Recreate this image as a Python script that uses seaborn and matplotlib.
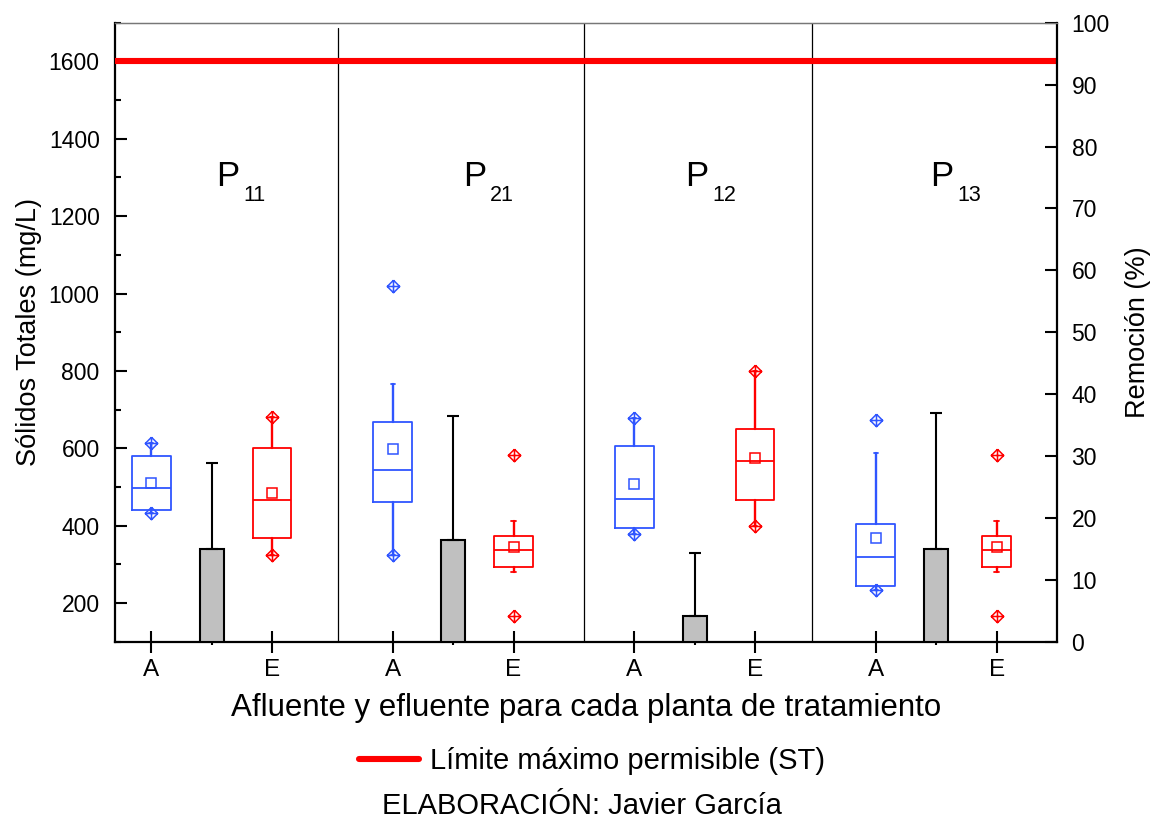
import numpy as np
import matplotlib
matplotlib.use("Agg")
import matplotlib.pyplot as plt
from matplotlib.path import Path
from matplotlib.lines import Line2D
from matplotlib.ticker import MultipleLocator, FixedLocator
import seaborn as sns

# ---- data -----------------------------------------------------------------
plantas = ["P11", "P21", "P12", "P13"]
etiquetas_x = ["A", "E", "A", "E", "A", "E", "A", "E"]

# Afluente (A), mg/L
afl_q1 = [440, 462, 394, 243]
afl_med = [497, 543, 470, 320]
afl_q3 = [580, 669, 605, 404]
afl_bigote_inf = [432, 324, 378, 233]
afl_bigote_sup = [614, 765, 677, 588]
afl_media = [510, 598, 507, 369]
afl_min = [432, 324, 378, 233]
afl_max = [614, 1020, 677, 674]

# Efluente (E), mg/L
efl_q1 = [368, 293, 466, 292]
efl_med = [466, 336, 568, 336]
efl_q3 = [600, 373, 650, 374]
efl_bigote_inf = [324, 281, 399, 281]
efl_bigote_sup = [681, 412, 799, 412]
efl_media = [485, 344, 575, 344]
efl_min = [324, 166, 399, 167]
efl_max = [681, 582, 799, 582]

# Remoción (%) por planta
remocion = [14.9, 16.4, 4.2, 14.9]
remocion_err = [13.9, 20.1, 10.1, 22.1]

limite_st = 1600

# ---- style ----------------------------------------------------------------
sns.set_style("ticks")
plt.rcParams["font.family"] = ["Liberation Sans", "DejaVu Sans"]
plt.rcParams.update({
    "text.color": "black",
    "axes.labelcolor": "black",
    "xtick.color": "black",
    "ytick.color": "black",
})

AZUL = "#2F55FF"
ROJO = "#FF0000"

fig = plt.figure(figsize=(11.52, 8.23), dpi=100)
ax = fig.add_axes([0.0998, 0.2203, 0.8177, 0.7521])
ax2 = ax.twinx()

pos_a = np.array([1, 3, 5, 7], dtype=float)
pos_e = pos_a + 1
pos_bar = pos_a + 0.5

# crossed diamond marker (diamond with a plus inside)
diamante = Path(
    [(0, 1), (1, 0), (0, -1), (-1, 0), (0, 1),
     (0, 1), (0, -1), (-1, 0), (1, 0)],
    [Path.MOVETO, Path.LINETO, Path.LINETO, Path.LINETO, Path.LINETO,
     Path.MOVETO, Path.LINETO, Path.MOVETO, Path.LINETO],
)


def estadisticas(q1, med, q3, lo, hi, media, mn, mx):
    return [
        dict(q1=a, med=b, q3=c, whislo=d, whishi=e, mean=f, fliers=[g, h])
        for a, b, c, d, e, f, g, h in zip(q1, med, q3, lo, hi, media, mn, mx)
    ]


def dibujar_cajas(stats, posiciones, anchos, color):
    lw = 1.3
    ax.bxp(
        stats, positions=posiciones, widths=anchos, showmeans=True,
        showfliers=True, manage_ticks=False, capwidths=0.035,
        boxprops=dict(color=color, lw=lw),
        whiskerprops=dict(color=color, lw=lw + 0.4),
        capprops=dict(color=color, lw=lw),
        medianprops=dict(color=color, lw=lw),
        meanprops=dict(marker="s", markerfacecolor="none",
                       markeredgecolor=color, markersize=6.5, markeredgewidth=1.1),
        flierprops=dict(marker=diamante, markerfacecolor="none",
                        markeredgecolor=color, markersize=9,
                        markeredgewidth=1.1, linestyle="none"),
    )


dibujar_cajas(
    estadisticas(afl_q1, afl_med, afl_q3, afl_bigote_inf, afl_bigote_sup,
                 afl_media, afl_min, afl_max),
    pos_a, [0.32] * 4, AZUL)
dibujar_cajas(
    estadisticas(efl_q1, efl_med, efl_q3, efl_bigote_inf, efl_bigote_sup,
                 efl_media, efl_min, efl_max),
    pos_e, [0.32, 0.32, 0.32, 0.24], ROJO)

# maximum permissible limit
ax.axhline(limite_st, color=ROJO, lw=4.4, zorder=5)

# separators between plants
for xs, top in zip([2.547, 4.58, 6.47], [0.991, 1.0, 1.0]):
    ax.axvline(xs, ymin=0, ymax=top, color="black", lw=0.9, zorder=1)

# plant labels P with subscript
x_p = [1.54, 3.58, 5.42, 7.45]
for nombre, xp in zip(plantas, x_p):
    ax.text(xp, 1279, nombre[0], fontsize=25, va="baseline", ha="left")
    ax.text(xp + 0.225, 1240, nombre[1:], fontsize=15.5, va="baseline", ha="left")

# removal bars on the secondary axis
sns.barplot(x=pos_bar, y=remocion, ax=ax2, native_scale=True, width=0.1,
            color="#C0C0C0", saturation=1, edgecolor="black", linewidth=1.5,
            errorbar=None)
ax2.errorbar(pos_bar, remocion, yerr=[np.zeros(4), remocion_err], fmt="none",
             ecolor="black", elinewidth=1.5, capsize=4.6, capthick=1.5)

# ---- axes -----------------------------------------------------------------
ax.set_xlim(0.7, 8.5)
ax.set_ylim(100, 1700)
ax2.set_ylim(0, 100)

ax.xaxis.set_major_locator(FixedLocator(np.arange(1, 9)))
ax.set_xticklabels(etiquetas_x)
ax.xaxis.set_minor_locator(FixedLocator(pos_bar))
ax.tick_params(axis="x", which="major", direction="inout", length=15.6,
               width=1.5, labelsize=17.5, pad=5, colors="black")
ax.tick_params(axis="x", which="minor", direction="out", length=2.5,
               width=1.5)

ax.yaxis.set_major_locator(MultipleLocator(200))
ax.yaxis.set_minor_locator(MultipleLocator(100))
ax.tick_params(axis="y", which="major", direction="in", length=8.4,
               width=1.5, labelsize=16.5, pad=11, right=False)
ax.tick_params(axis="y", which="minor", direction="in", length=4.2,
               width=1.5, right=False)

ax2.yaxis.set_major_locator(MultipleLocator(10))
ax2.tick_params(axis="y", which="major", direction="in", length=8.6,
                width=1.5, labelsize=16.5, pad=10.5)
ax2.tick_params(axis="y", which="minor", right=False)

ax.set_ylabel("Sólidos Totales (mg/L)", fontsize=19.5, labelpad=5)
ax2.set_ylabel("Remoción (%)", fontsize=19.5, labelpad=11)
ax.set_xlabel("Afluente y efluente para cada planta de tratamiento",
              fontsize=22.5, labelpad=8)
ax2.set_xlabel("")

for a in (ax, ax2):
    a.spines["top"].set_color("#777777")
    a.spines["top"].set_linewidth(0.9)
ax.spines["left"].set_linewidth(1.6)
ax.spines["bottom"].set_linewidth(1.6)
ax.spines["left"].set_color("black")
ax.spines["bottom"].set_color("black")
ax.spines["right"].set_visible(False)
ax2.spines["right"].set_linewidth(1.6)
ax2.spines["right"].set_color("black")
ax2.spines["left"].set_visible(False)
ax2.spines["bottom"].set_visible(False)

# legend and credit line
manejador = Line2D([], [], color=ROJO, lw=4.4)
fig.legend([manejador], ["Límite máximo permisible (ST)"], loc="center",
           bbox_to_anchor=(0.514, 0.0753), frameon=False, fontsize=21,
           handlelength=2.05, handletextpad=0.4)
fig.text(0.5048, 0.0207, "ELABORACIÓN: Javier García", fontsize=21,
         ha="center", va="center")

fig.savefig("out.png", dpi=100)
